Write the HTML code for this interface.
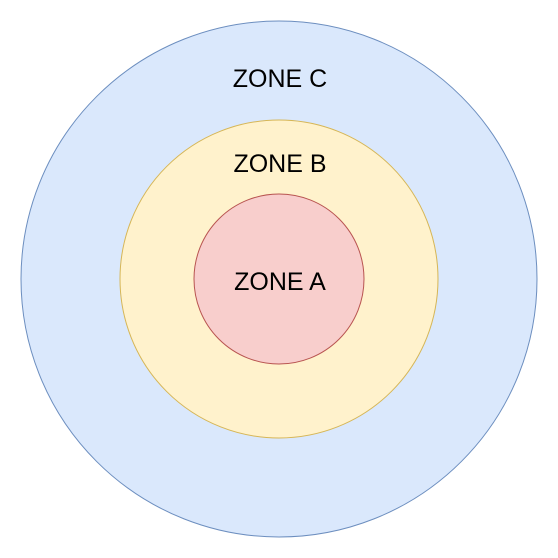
<!DOCTYPE html>
<html><head><style>html,body{margin:0;padding:0;background:#fff;width:558px;height:558px;overflow:hidden}</style></head>
<body>
<svg width="558" height="558" xmlns="http://www.w3.org/2000/svg" style="display:block">
<circle cx="279" cy="279" r="258" fill="#dae8fc" stroke="#6c8ebf" stroke-width="1"/>
<circle cx="279" cy="279" r="159" fill="#fff2cc" stroke="#d6b656" stroke-width="1"/>
<circle cx="279" cy="279" r="85" fill="#f8cecc" stroke="#b85450" stroke-width="1"/>
<g font-family="Liberation Sans, sans-serif" font-size="25" text-anchor="middle" fill="#000">
<text x="280" y="87">ZONE C</text>
<text x="280" y="172">ZONE B</text>
<text x="280" y="290">ZONE A</text>
</g>
</svg>
</body></html>
